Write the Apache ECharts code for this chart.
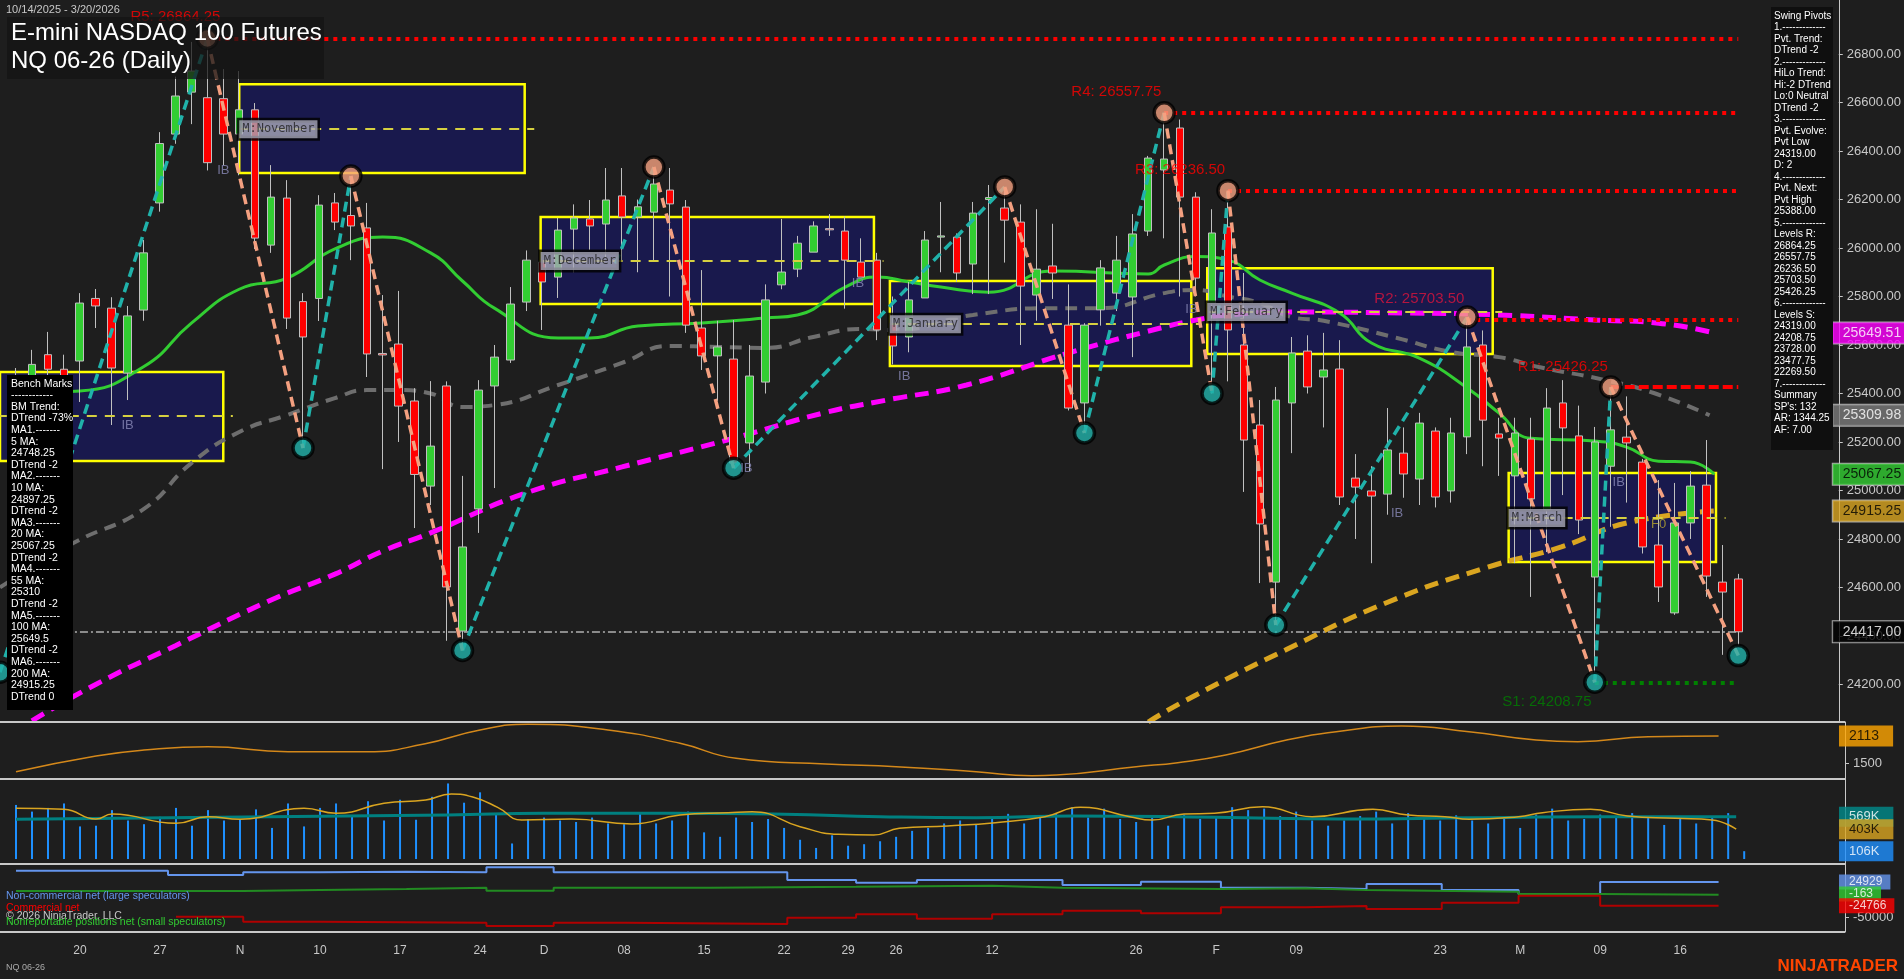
<!DOCTYPE html>
<html><head><meta charset="utf-8">
<script src="https://cdn.jsdelivr.net/npm/echarts@6/dist/echarts.min.js"></script>
<style>html,body{margin:0;padding:0;background:#1e1e1e;}#c{width:1904px;height:979px;}</style>
</head><body><div id="c"></div>
<script>
// ---------- DATA ----------
const opens  = [25380,25450,25560,25500,25534,25792,25752,25484,25744,26186,26470,26643,26620,26616,26470,26570,26012,26206,25779,25792,26186,26134,26083,25565,25604,25369,25018,25431,24420,24924,25431,25538,25777,25942,25880,26078,26120,26099,26215,26128,26148,26239,26169,25670,25555,25542,25196,25447,25848,25913,25983,26080,26070,25942,25950,25690,25633,25794,26045,26045,25934,26200,26165,26107,25806,25926,25682,25361,25745,25814,25798,26070,26322,26495,26210,25773,26087,25600,25270,24622,25361,25575,25468,25501,25051,24998,24985,25154,25047,25245,24998,25221,25600,25233,25060,25212,24919,25361,25225,24643,25100,25220,25117,24775,24495,24866,25022,24622,24635];
const closes = [25450,25520,25500,25420,25773,25761,25505,25720,25980,26431,26627,26730,26352,26470,26570,26041,26210,25711,25633,26177,26107,26091,25563,25559,25348,25066,25183,24602,24767,25414,25550,25769,25950,25860,26074,26124,26091,26198,26128,26170,26264,26182,25682,25555,25592,25113,25472,25786,25901,26020,26091,26075,25950,25880,25662,25596,25786,26033,26050,25897,26144,26208,26115,25843,25913,25897,25340,25682,25918,25950,26058,26371,26367,26210,25876,26062,25662,25208,24862,25373,25567,25427,25497,24973,25014,24977,25167,25068,25278,24973,25237,25592,25290,25216,25237,24965,25340,25258,24878,25200,25250,25196,24767,24602,24866,25018,24647,24581,24417];
const lows   = [25250,25330,25420,25300,25365,25670,25270,25373,25700,26150,26430,26511,26320,26342,26300,25996,25980,25666,25175,25699,26074,25950,25468,25088,25200,24845,24940,24380,24340,24825,25010,25526,25740,25662,25794,25900,25992,25960,25950,25900,25950,25800,25650,25497,25370,25092,25080,25400,25830,25880,25983,26050,25750,25880,25620,25520,25570,25794,25900,25860,25810,25810,25940,25600,25700,25790,25330,25237,25680,25740,25550,26050,26040,25800,25800,25400,25450,24994,24618,24445,25154,25400,25260,24940,24800,24700,24900,24970,24940,24930,24950,25150,25100,25060,24700,24561,24746,24981,24820,24210,24850,24950,24740,24540,24487,24800,24561,24322,24363];
const highs  = [25505,25580,25654,25560,25814,25831,25797,25761,26033,26478,26707,26850,26864,26738,26730,26598,26342,26280,25814,26218,26227,26297,26186,25806,25823,25422,25451,25450,25060,25455,25600,25839,25990,25963,26124,26180,26198,26330,26330,26200,26334,26330,26198,25909,25700,25703,25600,25850,26120,26050,26110,26140,26130,26040,25980,25800,25860,26070,26190,26060,26190,26260,26252,26180,26160,26100,25850,25690,25950,26050,26140,26380,26557,26530,26230,26160,26236,25897,25373,25427,25633,25640,25650,25620,25150,25100,25340,25260,25320,25260,25300,25715,25660,25300,25300,25300,25422,25455,25350,25262,25426,25388,25130,25043,25031,25080,25208,24775,24656];
const volumes = [730,640,690,750,440,450,660,520,470,570,690,450,660,520,530,670,420,750,440,690,750,580,780,520,800,530,840,1020,760,900,620,210,540,560,520,500,560,480,470,620,480,520,640,360,300,560,500,540,420,260,150,320,180,200,240,300,380,420,480,520,470,540,610,480,560,620,700,560,680,540,500,560,450,600,540,580,700,660,680,580,640,520,450,520,580,640,480,620,560,520,590,520,480,560,420,600,680,520,540,600,580,620,560,460,540,480,560,620,106];
const ma20  = [[0,25400],[4,25410],[8,25510],[11,25690],[14,25830],[17,25876],[20,25996],[23,26045],[26,25980],[28,25864],[30,25752],[34,25629],[36,25629],[39,25678],[43,25691],[47,25711],[49,25724],[52,25839],[54,25880],[56,25860],[58,25839],[61,25818],[65,25905],[71,25893],[72,25930],[74,25965],[76,25950],[78,25868],[80,25814],[83,25732],[85,25608],[88,25546],[91,25423],[93,25319],[95,25215],[99,25204],[101,25179],[103,25121],[105,25117],[106.5,25067]];
const ma55  = [[-1,24600],[3.6,24783],[8,24923],[11,25113],[14,25241],[17,25311],[20,25381],[22,25414],[24,25414],[26,25400],[28,25344],[30,25352],[34,25435],[38,25526],[41,25596],[44,25592],[47,25588],[50,25633],[53,25666],[55,25662],[60,25724],[65,25752],[68,25752],[72,25814],[74,25827],[76,25800],[78,25773],[80,25715],[82,25700],[86.6,25629],[90,25571],[93,25550],[95.5,25509],[99.6,25456],[102.7,25402],[106.2,25310]];
const ma100 = [[1,24050],[5,24200],[10,24360],[16,24548],[20,24655],[23,24750],[26,24825],[32,24990],[38,25097],[44.6,25208],[50.6,25319],[54.6,25373],[59.6,25435],[66,25567],[72,25674],[74,25703],[76,25724],[80,25736],[87,25732],[93,25724],[99,25703],[103,25690],[106.5,25649.5]];
const ma200 = [[71,24045],[73.4,24136],[79.6,24342],[85.9,24536],[92.1,24680],[96.9,24767],[101,24866],[106.5,24915]];
const pivotIdx   = [-1,12,18,21,28,40,45,62,67,72,75,76,79,91,99,100,108];
const pivotPrice = [24250,26864.25,25175,26297,24340,26334,25092,26252,25237,26557.75,25400,26236.5,24445,25715,24208.75,25426.25,24319];
const pivotHigh  = [0,1,0,1,0,1,0,1,0,1,0,1,0,1,0,1,0];
const levelNames  = ['R5: 26864.25','R4: 26557.75','R3: 26236.50','R2: 25703.50','R1: 25426.25','S1: 24208.75'];
const levelValues = [26864.25,26557.75,26236.5,25703.5,25426.25,24208.75];
const levelStart  = [12,72,76,91,100,99];
const levelLabelAt= [[10,26952],[69,26643],[73,26321],[88,25790],[97,25510],[96,24128]];
const boxNames = ['','M:November','M:December','M:January','M:February','M:March'];
const boxes = [[-1.2,13,25122,25489,25307],[14,31.9,26309,26676,26490],[32.9,53.8,25769,26128,25946],[54.8,73.7,25513,25864,25686],[74.7,92.6,25563,25917,25736],[93.6,106.6,24705,25072,24886]];
const osc = [[0,1302],[5,1659],[8,1795],[12,1870],[17,1757],[22,1757],[25.5,1931],[29,2249],[32,2377],[37,2249],[41.5,1946],[45,1606],[50.6,1477],[55,1416],[60,1302],[63.5,1211],[65,1226],[70,1416],[72.6,1507],[75.6,1681],[79.4,2022],[82.5,2211],[86.6,2340],[90.8,2211],[95,2022],[97.6,1984],[102,2097],[106.4,2113]];
const volAvg = [[0,684],[3,671],[5,540],[6,608],[10,482],[12,572],[14,536],[18,684],[20,617],[23,752],[25.6,797],[27.2,878],[28.6,833],[30.1,698],[31.6,527],[34.7,540],[38.5,473],[41.5,594],[44.5,626],[46,639],[49,437],[51.4,333],[53.6,324],[55.2,414],[58.2,446],[61.2,491],[64.3,572],[66.5,698],[69.6,572],[71,527],[73,608],[74.9,617],[77.9,707],[81,572],[84.8,671],[87,594],[89.3,572],[90.8,536],[93.9,572],[95.4,626],[98.4,671],[100.7,581],[103.7,549],[106,527],[107.5,403]];
const volTeal = [[0,536],[27,595],[33,617],[41,617],[48,604],[54,572],[60,558],[66,581],[75,563],[83,540],[91,558],[99,572],[107.5,569]];
const cotLarge = [[0,48650],[9.5,39620],[14.2,45290],[19,46550],[24.4,45290],[29.4,55790],[33.6,45290],[48.2,29130],[52.5,23460],[56.3,29130],[65.4,18630],[70.3,25560],[75.3,12970],[80.6,10240],[84.4,20730],[89.1,8140],[93.9,-200],[99,24929],[106.4,24929]];
const cotSmall = [[0,6040],[14.2,8140],[19,10240],[24.4,12970],[29.4,6670],[33.6,12970],[43.4,15060],[52.5,17160],[61,12970],[65.4,10240],[75.3,11600],[80.6,8140],[84.4,4570],[93.9,-260],[99,-1730],[106.4,-1730]];
const cotComm  = [[10,-47900],[14.2,-58400],[19,-60500],[29.4,-67400],[33.6,-60500],[38.1,-63200],[48.2,-50000],[52.5,-42900],[56.3,-52100],[61,-42900],[65.4,-35300],[70.3,-40800],[75.3,-28200],[80.6,-25400],[84.4,-31700],[89.1,-18500],[93.9,-4000],[99,-24766],[106.4,-24766]];
const tickIdx    = [4,9,14,19,24,29,33,38,43,48,52,55,61,70,75,80,89,94,99,104];
const tickLabels = ['20','27','N','10','17','24','D','08','15','22','29','26','12','26','F','09','23','M','09','16'];
const priceTicks = [24200,24400,24600,24800,25000,25200,25400,25600,25800,26000,26200,26400,26600,26800];
const ibMarks = [[7,25270,'IB'],[13,26320,'IB'],[45.8,25092,'IB'],[52.8,25856,'IB'],[55.7,25472,'IB'],[73.7,25745,'IB'],[86.6,24907,'IB'],[100.5,25035,'IB'],[-1.3,25300,'B']];
const tags = [[0,25649.51,'#ff00ff','#fff'],[0,25309.98,'#7a7a7a','#fff'],[0,25067.25,'#32cd32','#000'],[0,24915.25,'#daa520','#000'],[0,24417.00,'#000','#fff']];

// ---------- BUILD ----------
const XMIN=-1, XMAX=114.3;
const candle = opens.map((o,i)=>[i,o,closes[i],lows[i],highs[i]]);
const chart = echarts.init(document.getElementById('c'));
const lbl = {};
tickIdx.forEach((v,k)=>lbl[v]=tickLabels[k]);
function xa(grid, show){return {type:'value',gridIndex:grid,min:XMIN,max:XMAX,axisLine:{show:false},axisTick:{show:false},splitLine:{show:false},
  axisLabel:{show:show,customValues:tickIdx,formatter:v=>lbl[Math.round(v)]||'',color:'#c8c8c8',fontSize:12,margin:13,fontFamily:'Liberation Sans'}};}
function ya(grid,min,max,vals,fmt){return {type:'value',gridIndex:grid,position:'right',min:min,max:max,scale:true,
  axisLine:{show:true,onZero:false,lineStyle:{color:'#c8c8c8'}},axisTick:{show:true,customValues:vals,length:4,lineStyle:{color:'#c8c8c8'}},
  splitLine:{show:false},axisLabel:{customValues:vals,formatter:fmt,color:'#c8c8c8',fontSize:13,margin:8,fontFamily:'Liberation Sans'}};}
const dashedLine=(data,color,w,type,name,xi,yi)=>({type:'line',name:name,data:data,xAxisIndex:xi||0,yAxisIndex:yi||0,showSymbol:false,smooth:true,
  lineStyle:{color:color,width:w,type:type},z:4,silent:true});
const zigUp=[],zigDn=[];
for(let k=0;k<pivotIdx.length-1;k++){
  const seg={coords:[[pivotIdx[k],pivotPrice[k]],[pivotIdx[k+1],pivotPrice[k+1]]]};
  (pivotHigh[k+1]?zigUp:zigDn).push(seg);
}
const levelLines = levelValues.map((v,k)=>({coords:[[levelStart[k],v],[108,v]],
  lineStyle:{color:k===5?'#008000':'#ff0000',width:4,opacity:1,type:k===4?[10,4]:[4,5]}}));
const markAreas = boxes.map(b=>[{xAxis:b[0],yAxis:b[3]},{xAxis:b[1],yAxis:b[2]}]);
const midLines = boxes.map(b=>({coords:[[b[0],b[4]],[b[1]+0.6,b[4]]]}));
const benchLines=['Bench Marks','------------','BM Trend:','DTrend -73%','MA1.-------','5 MA:','24748.25','DTrend -2','MA2.-------','10 MA:','24897.25','DTrend -2','MA3.-------','20 MA:','25067.25','DTrend -2','MA4.-------','55 MA:','25310','DTrend -2','MA5.-------','100 MA:','25649.5','DTrend -2','MA6.-------','200 MA:','24915.25','DTrend 0'];
const swingLines=['Swing Pivots','1.-------------','Pvt. Trend:','DTrend -2','2.-------------','HiLo Trend:','Hi:-2 DTrend','Lo:0 Neutral','DTrend -2','3.-------------','Pvt. Evolve:','Pvt Low','24319.00','D: 2','4.-------------','Pvt. Next:','Pvt High','25388.00','5.-------------','Levels R:','26864.25','26557.75','26236.50','25703.50','25426.25','6.-------------','Levels S:','24319.00','24208.75','23728.00','23477.75','22269.50','7.-------------','Summary',"SP's: 132",'AR: 1344.25','AF: 7.00'];

const option={
  backgroundColor:'#1e1e1e',animation:false,
  textStyle:{fontFamily:'Liberation Sans'},
  grid:[{left:0,right:59,top:0,height:722},{left:0,right:59,top:722,height:57},{left:0,right:59,top:779,height:85},{left:0,right:59,top:864,height:68}],
  xAxis:[xa(0,false),xa(1,false),xa(2,false),xa(3,true)],
  yAxis:[ya(0,24045,27023,priceTicks,v=>v.toFixed(2)),ya(1,1136,2430,[1500],v=>v),ya(2,-67,1080,[],v=>v),ya(3,-80021,62711,[-50000],v=>v)],
  graphic:[
    {type:'rect',shape:{x:0,y:721,width:1845,height:2},style:{fill:'#c8c8c8'},z:50},
    {type:'rect',shape:{x:0,y:778,width:1845,height:2},style:{fill:'#c8c8c8'},z:50},
    {type:'rect',shape:{x:0,y:863,width:1845,height:2},style:{fill:'#c8c8c8'},z:50},
    {type:'rect',shape:{x:0,y:931,width:1845,height:2},style:{fill:'#c8c8c8'},z:50},
    {type:'text',left:6,top:4,style:{text:'10/14/2025 - 3/20/2026',fill:'#c8c8c8',font:'11px Liberation Sans'},z:60},
    {type:'rect',shape:{x:7,y:17,width:317,height:62},style:{fill:'rgba(20,20,20,0.75)'},z:60},
    {type:'text',left:11,top:19,style:{text:'E-mini NASDAQ 100 Futures\nNQ 06-26 (Daily)',fill:'#ffffff',font:'24px Liberation Sans',lineHeight:28},z:61},
    {type:'rect',shape:{x:7,y:375,width:66,height:335},style:{fill:'#000000'},z:60},
    {type:'text',left:11,top:378,style:{text:benchLines.join('\n'),fill:'#ffffff',font:'10.5px Liberation Sans',lineHeight:11.6},z:61},
    {type:'rect',shape:{x:1771,y:7,width:62,height:443},style:{fill:'#0f0f0f'},z:60},
    {type:'text',left:1774,top:10,style:{text:swingLines.join('\n'),fill:'#ffffff',font:'10px Liberation Sans',lineHeight:11.5},z:61},
    {type:'text',left:6,top:891,style:{text:'Non-commercial net (large speculators)',fill:'#6495ed',font:'10.5px Liberation Sans'},z:61},
    {type:'text',left:6,top:903,style:{text:'Commercial net',fill:'#ff0000',font:'10.5px Liberation Sans'},z:61},
    {type:'text',left:6,top:911,style:{text:'© 2026 NinjaTrader, LLC',fill:'#c8c8c8',font:'10.5px Liberation Sans'},z:61},
    {type:'text',left:6,top:917,style:{text:'Nonreportable positions net (small speculators)',fill:'#32cd32',font:'10.5px Liberation Sans'},z:61},
    {type:'text',left:6,top:963,style:{text:'NQ 06-26',fill:'#aaaaaa',font:'9px Liberation Sans'},z:61},
    {type:'text',right:6,top:958,style:{text:'NINJATRADER',fill:'#ff4500',font:'bold 17px Liberation Sans'},z:61}
  ],
  series:[
    {type:'line',data:[],xAxisIndex:0,yAxisIndex:0,z:6,silent:true,
      markArea:{silent:true,itemStyle:{color:'rgba(24,24,96,0.72)',borderColor:'#ffff00',borderWidth:2.5},data:markAreas}},
    {type:'lines',coordinateSystem:'cartesian2d',xAxisIndex:0,yAxisIndex:0,z:7,silent:true,
      lineStyle:{color:'#d6d040',width:2,opacity:1,type:[10,8]},data:midLines},
    dashedLine(ma55,'#6e6e6e',4,[12,8],'55'),
    dashedLine(ma100,'#ff00ff',5,[14,8],'100'),
    dashedLine(ma200,'#daa520',5,[14,8],'200'),
    dashedLine(ma20,'#32cd32',3,'solid','20'),
    {type:'candlestick',data:candle,xAxisIndex:0,yAxisIndex:0,encode:{x:0,y:[1,2,3,4]},barWidth:8,z:5,
      itemStyle:{color:'#32cd32',color0:'#ff0000',borderColor:'#c0c0c0',borderColor0:'#c0c0c0',borderWidth:1}},
    {type:'lines',coordinateSystem:'cartesian2d',xAxisIndex:0,yAxisIndex:0,z:8,silent:true,data:levelLines},
    {type:'lines',coordinateSystem:'cartesian2d',xAxisIndex:0,yAxisIndex:0,z:8,silent:true,
      lineStyle:{color:'#b0b0b0',width:1.5,opacity:1,type:[8,3,2,3]},data:[{coords:[[0,24417],[108,24417]]}]},
    {type:'lines',coordinateSystem:'cartesian2d',xAxisIndex:0,yAxisIndex:0,z:9,silent:true,
      lineStyle:{color:'#20b2aa',width:3.5,opacity:1,type:[10,6]},data:zigUp},
    {type:'lines',coordinateSystem:'cartesian2d',xAxisIndex:0,yAxisIndex:0,z:9,silent:true,
      lineStyle:{color:'#f4a080',width:3.5,opacity:1,type:[10,6]},data:zigDn},
    {type:'scatter',xAxisIndex:0,yAxisIndex:0,z:10,silent:true,symbolSize:20,
      data:pivotIdx.map((x,k)=>({value:[x,pivotPrice[k]],itemStyle:{color:pivotHigh[k]?'#f4a080':'#20b2aa',borderColor:'#000',borderWidth:3.5}}))},
    {type:'scatter',xAxisIndex:0,yAxisIndex:0,z:11,silent:true,symbolSize:0,
      data:levelLabelAt.map((p,k)=>({value:p,label:{show:true,formatter:levelNames[k],position:'inside',color:k===5?'#008000':(k===3?'#dc143c':'#ff0000'),fontSize:15}}))},
    {type:'scatter',xAxisIndex:0,yAxisIndex:0,z:12,silent:true,symbolSize:0,
      data:boxes.map((b,k)=>({value:[b[0],b[4]],label:{show:k>0,formatter:boxNames[k],position:'right',distance:0,color:'#202020',
        backgroundColor:'#a8a8b8',borderColor:'#000',borderWidth:2.5,padding:[3,3],fontSize:12,fontFamily:'DejaVu Sans Mono'}}))},
    {type:'scatter',xAxisIndex:0,yAxisIndex:0,z:12,silent:true,symbolSize:0,
      data:ibMarks.map(m=>({value:[m[0],m[1]],label:{show:true,formatter:m[2],position:'inside',color:'#8a8ab8',fontSize:13}}))},
    {type:'scatter',xAxisIndex:0,yAxisIndex:0,z:12,silent:true,symbolSize:0,
      data:[{value:[103,24862],label:{show:true,formatter:'F0',position:'inside',color:'#b8a830',fontSize:13}}]},
    {type:'scatter',xAxisIndex:0,yAxisIndex:0,z:20,silent:true,symbolSize:0,clip:false,
      data:tags.map(t=>({value:[XMAX,t[1]],label:{show:true,formatter:t[1].toFixed(2),position:'right',distance:-6,color:t[3],
        backgroundColor:t[2],borderColor:'#c8c8c8',borderWidth:1,padding:[4,4,3,10],fontSize:14}}))},
    dashedLine(osc,'#d4881a',1.5,'solid','osc',1,1),
    {type:'scatter',xAxisIndex:1,yAxisIndex:1,z:20,symbolSize:0,clip:false,
      data:[{value:[XMAX,2113],label:{show:true,formatter:'2113',position:'right',distance:-6,color:'#000',backgroundColor:'#ffa500',padding:[4,14,3,10],fontSize:14}}]},
    {type:'bar',xAxisIndex:2,yAxisIndex:2,barWidth:2,data:volumes.map((v,i)=>[i,v]),itemStyle:{color:'#1e90ff'},z:3},
    dashedLine(volTeal,'#008080',3,'solid','teal',2,2),
    dashedLine(volAvg,'#daa520',1.5,'solid','vavg',2,2),
    {type:'scatter',xAxisIndex:2,yAxisIndex:2,z:20,symbolSize:0,clip:false,
      data:[[569,'569K','#008b8b','#fff'],[403,'403K','#daa520','#000'],[106,'106K','#1e90ff','#fff']].map(t=>({value:[XMAX,t[0]],
        label:{show:true,formatter:t[1],position:'right',distance:-6,color:t[3],backgroundColor:t[2],padding:[4,14,3,10],fontSize:13}}))},
    {type:'line',xAxisIndex:3,yAxisIndex:3,step:'end',data:cotLarge,showSymbol:false,lineStyle:{color:'#6495ed',width:2}},
    {type:'line',xAxisIndex:3,yAxisIndex:3,step:'end',data:cotSmall,showSymbol:false,lineStyle:{color:'#228b22',width:2}},
    {type:'line',xAxisIndex:3,yAxisIndex:3,step:'end',data:cotComm,showSymbol:false,lineStyle:{color:'#b00000',width:2}},
    {type:'scatter',xAxisIndex:3,yAxisIndex:3,z:20,symbolSize:0,clip:false,
      data:[[24929,'24929','#6495ed','#fff'],[-163,'-163','#32cd32','#fff'],[-24766,'-24766','#ff0000','#fff']].map(t=>({value:[XMAX,t[0]],
        label:{show:true,formatter:t[1],position:'right',distance:-6,color:t[3],backgroundColor:t[2],padding:[2,8,1,10],fontSize:12}}))}
  ]
};
chart.setOption(option);
</script></body></html>
